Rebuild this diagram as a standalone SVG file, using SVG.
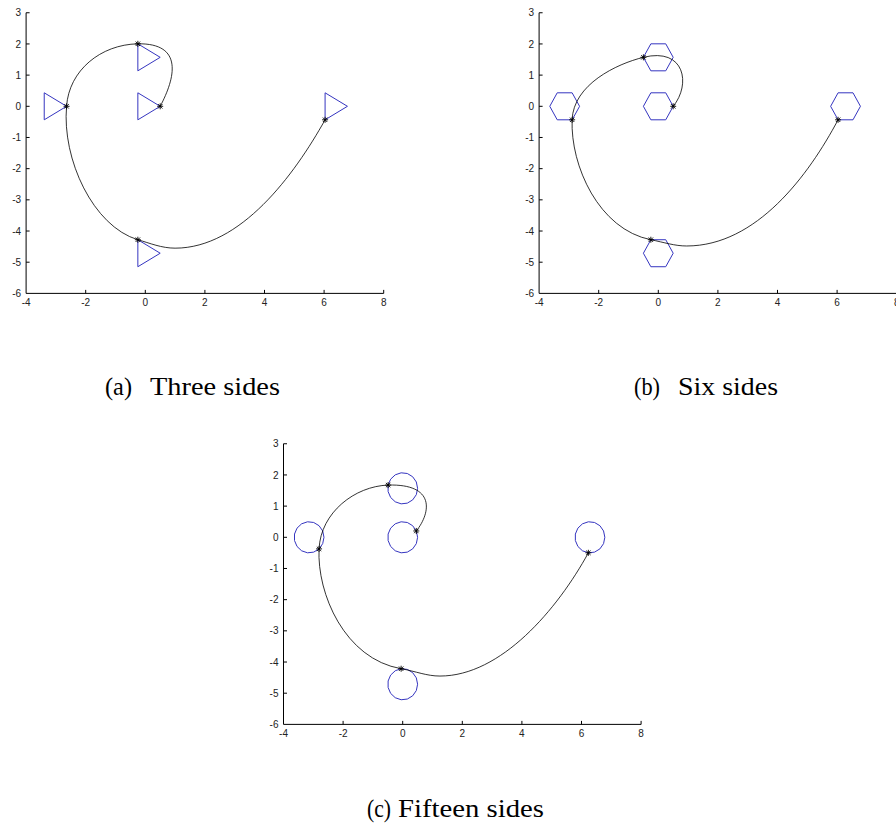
<svg xmlns="http://www.w3.org/2000/svg" xmlns:xlink="http://www.w3.org/1999/xlink" width="896" height="833" viewBox="0 0 896 833">
<style>
.ax{fill:none;stroke:#000;stroke-width:1}
.tl{font-family:"Liberation Sans",Arial,sans-serif;font-size:10px;fill:#222}
.xl{text-anchor:middle}
.yl{text-anchor:end}
.poly{fill:none;stroke:#3535c0;stroke-width:1;vector-effect:non-scaling-stroke}
.curve{fill:none;stroke:#000;stroke-width:0.8;vector-effect:non-scaling-stroke}
.star{fill:none;stroke:#000;stroke-width:0.9}
.cap{font-family:"Liberation Serif","Times New Roman",serif;font-size:26px;fill:#000}
</style>
<defs>
<path id="star" class="star" d="M-3,0H3M0,-3V3M-2.2,-2.2L2.2,2.2M-2.2,2.2L2.2,-2.2"/>
<polygon id="tri" class="poly" points="0.5,0 -0.25,0.433 -0.25,-0.433"/>
<polygon id="hex" class="poly" points="0.5,0 0.25,0.433 -0.25,0.433 -0.5,0 -0.25,-0.433 0.25,-0.433"/>
<polygon id="p15" class="poly" points="0.5,0 0.4568,0.2034 0.3346,0.3716 0.1545,0.4755 -0.0523,0.4973 -0.25,0.433 -0.4045,0.2939 -0.4891,0.104 -0.4891,-0.104 -0.4045,-0.2939 -0.25,-0.433 -0.0523,-0.4973 0.1545,-0.4755 0.3346,-0.3716 0.4568,-0.2034"/>
<g id="axes">
<path class="ax" d="M-119.2,-93.54V187.08H238.4"/>
<path class="ax" d="M-59.6,187.08v-3.5M0,187.08v-3.5M59.6,187.08v-3.5M119.2,187.08v-3.5M178.8,187.08v-3.5M238.4,187.08v-3.5M-119.2,-93.54h3.5M-119.2,-62.36h3.5M-119.2,-31.18h3.5M-119.2,0h3.5M-119.2,31.18h3.5M-119.2,62.36h3.5M-119.2,93.54h3.5M-119.2,124.72h3.5M-119.2,155.9h3.5"/>
<g class="tl xl">
<text x="-119.2" y="199.3">-4</text>
<text x="-59.6" y="199.3">-2</text>
<text x="0" y="199.3">0</text>
<text x="59.6" y="199.3">2</text>
<text x="119.2" y="199.3">4</text>
<text x="178.8" y="199.3">6</text>
<text x="238.4" y="199.3">8</text>
</g>
<g class="tl yl">
<text x="-124.2" y="-89.9">3</text>
<text x="-124.2" y="-58.8">2</text>
<text x="-124.2" y="-27.6">1</text>
<text x="-124.2" y="3.6">0</text>
<text x="-124.2" y="34.8">-1</text>
<text x="-124.2" y="66">-2</text>
<text x="-124.2" y="97.1">-3</text>
<text x="-124.2" y="128.3">-4</text>
<text x="-124.2" y="159.5">-5</text>
<text x="-124.2" y="190.7">-6</text>
</g>
</g>
</defs>

<g id="plot-a" transform="translate(145.3,106.3)">
<use xlink:href="#axes"/>
<g id="polys-a" transform="scale(29.8,-31.18)">
<use id="a-n1" xlink:href="#tri" x="0" y="0"/>
<use id="a-n2" xlink:href="#tri" x="0" y="1.5708"/>
<use id="a-n3" xlink:href="#tri" x="-3.1416" y="0"/>
<use id="a-n4" xlink:href="#tri" x="0" y="-4.7124"/>
<use id="a-n5" xlink:href="#tri" x="6.2832" y="0"/>
</g>
<g id="curve-a" transform="scale(29.8,-31.18)">
<path class="curve" d="M0.5,0C1.0,0.9 1.3,2.03 -0.25,2.004C-1.5,1.98 -2.56,1.15 -2.642,0C-2.8,-1.7 -1.75,-3.85 -0.25,-4.279C0.15,-4.39 0.55,-4.55 1.0,-4.55C3.2,-4.55 5.0,-2.2 6.033,-0.433"/>
</g>
<g id="stars-a">
<use xlink:href="#star" x="14.9" y="0"/>
<use xlink:href="#star" x="-7.45" y="-62.48"/>
<use xlink:href="#star" x="-78.72" y="0"/>
<use xlink:href="#star" x="-7.45" y="133.43"/>
<use xlink:href="#star" x="179.79" y="13.5"/>
</g>
</g>

<g id="plot-b" transform="translate(658.3,106.3)">
<use xlink:href="#axes"/>
<g id="polys-b" transform="scale(29.8,-31.18)">
<use id="b-n1" xlink:href="#hex" x="0" y="0"/>
<use id="b-n2" xlink:href="#hex" x="0" y="1.5708"/>
<use id="b-n3" xlink:href="#hex" x="-3.1416" y="0"/>
<use id="b-n4" xlink:href="#hex" x="0" y="-4.7124"/>
<use id="b-n5" xlink:href="#hex" x="6.2832" y="0"/>
</g>
<g id="curve-b" transform="scale(29.8,-31.18)">
<path class="curve" d="M0.5,0C1.1,0.7 0.9,1.9 -0.5,1.571C-1.4,1.36 -2.85,0.7 -2.892,-0.433C-2.95,-1.9 -2.0,-3.95 -0.25,-4.279C0.2,-4.365 0.55,-4.48 0.95,-4.48C3.3,-4.48 5.05,-2.2 6.033,-0.433"/>
</g>
<g id="stars-b">
<use xlink:href="#star" x="14.9" y="0"/>
<use xlink:href="#star" x="-14.9" y="-48.98"/>
<use xlink:href="#star" x="-86.17" y="13.5"/>
<use xlink:href="#star" x="-7.45" y="133.43"/>
<use xlink:href="#star" x="179.79" y="13.5"/>
</g>
</g>

<g id="plot-c" transform="translate(402.7,537.3)">
<use xlink:href="#axes"/>
<g id="polys-c" transform="scale(29.8,-31.18)">
<use id="c-n1" xlink:href="#p15" x="0" y="0"/>
<use id="c-n2" xlink:href="#p15" x="0" y="1.5708"/>
<use id="c-n3" xlink:href="#p15" x="-3.1416" y="0"/>
<use id="c-n4" xlink:href="#p15" x="0" y="-4.7124"/>
<use id="c-n5" xlink:href="#p15" x="6.2832" y="0"/>
</g>
<g id="curve-c" transform="scale(29.8,-31.18)">
<path class="curve" d="M0.457,0.203C0.95,0.8 1.1,1.72 -0.489,1.675C-1.6,1.64 -2.75,0.8 -2.807,-0.372C-2.88,-1.8 -1.95,-3.9 -0.052,-4.215C0.45,-4.3 0.8,-4.45 1.25,-4.45C3.3,-4.45 5.2,-2.3 6.231,-0.497"/>
</g>
<g id="stars-c">
<use xlink:href="#star" x="13.61" y="-6.34"/>
<use xlink:href="#star" x="-14.58" y="-52.22"/>
<use xlink:href="#star" x="-83.65" y="11.59"/>
<use xlink:href="#star" x="-1.56" y="131.43"/>
<use xlink:href="#star" x="185.68" y="15.51"/>
</g>
</g>

<g id="captions" class="cap">
<text x="105" y="395" textLength="27" lengthAdjust="spacingAndGlyphs">(a)</text>
<text x="150" y="395" textLength="130" lengthAdjust="spacingAndGlyphs">Three sides</text>
<text x="634" y="395" textLength="26" lengthAdjust="spacingAndGlyphs">(b)</text>
<text x="678" y="395" textLength="100" lengthAdjust="spacingAndGlyphs">Six sides</text>
<text x="367" y="817" textLength="24" lengthAdjust="spacingAndGlyphs">(c)</text>
<text x="398" y="817" textLength="146" lengthAdjust="spacingAndGlyphs">Fifteen sides</text>
</g>
</svg>
